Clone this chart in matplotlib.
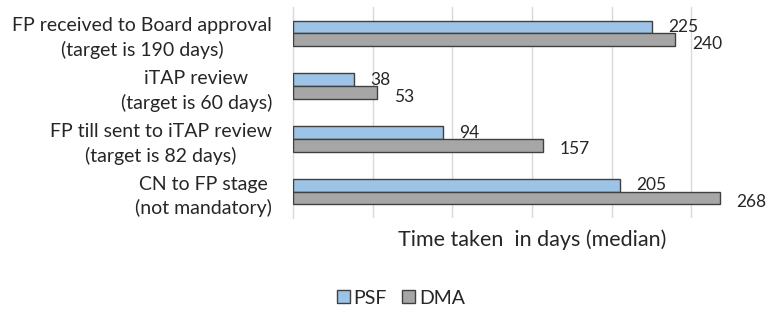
import matplotlib
matplotlib.use("Agg")
import matplotlib.pyplot as plt
import numpy as np
from matplotlib.patches import Patch

categories = [
    "FP received to Board approval\n(target is 190 days)",
    "iTAP review\n(target is 60 days)",
    "FP till sent to iTAP review\n(target is 82 days)",
    "CN to FP stage\n(not mandatory)",
]
series_names = ["PSF", "DMA"]
psf_values = [225, 38, 94, 205]
dma_values = [240, 53, 157, 268]

plt.rcParams['font.family'] = ['Lato', 'DejaVu Sans']
text_color = "#262626"

fig = plt.figure(figsize=(7.71, 3.2), dpi=100)
ax = fig.add_axes([293/771, 1-218/320, 1-293/771, (218-7)/320])

y = np.arange(len(categories))
h = 0.24
ax.barh(y - h/2, psf_values, height=h, color="#9DC3E6", edgecolor="#404040", linewidth=1.0, zorder=3)
ax.barh(y + h/2, dma_values, height=h, color="#A6A6A6", edgecolor="#404040", linewidth=1.0, zorder=3)

for yi, v in zip(y, psf_values):
    ax.annotate(str(v), (v, yi - h/2), xytext=(12, 0), textcoords="offset points",
                ha="left", va="center", fontsize=12.5, color=text_color)
for yi, v in zip(y, dma_values):
    ax.annotate(str(v), (v, yi + h/2), xytext=(12, -3), textcoords="offset points",
                ha="left", va="center", fontsize=12.5, color=text_color)

ax.set_xlim(0, 300)
ax.set_ylim(len(categories) - 0.5, -0.5)
ax.set_yticks(y)
ax.set_yticklabels(categories, fontsize=14, color=text_color, multialignment="center",
                   linespacing=1.45)
ax.tick_params(axis="y", length=0, pad=15)
ax.set_xticks([50, 100, 150, 200, 250])
ax.tick_params(axis="x", length=0, labelbottom=False)
ax.grid(axis="x", color="#D9D9D9", linewidth=1.0, zorder=0)
for s in ["top", "right", "bottom"]:
    ax.spines[s].set_visible(False)
ax.spines["left"].set_color("#D9D9D9")
ax.spines["left"].set_linewidth(1.0)
ax.set_xlabel("Time taken  in days (median)", fontsize=15.5, color=text_color, labelpad=8)

handles = [Patch(facecolor="#9DC3E6", edgecolor="#404040"),
           Patch(facecolor="#A6A6A6", edgecolor="#404040")]
fig.legend(handles, series_names, loc="center", bbox_to_anchor=(401/771, 1-298/320),
           ncol=2, frameon=False, fontsize=14, handlelength=0.65, handleheight=0.65,
           handletextpad=0.2, columnspacing=0.8, labelcolor=text_color)

fig.savefig("out.png", dpi=100)
